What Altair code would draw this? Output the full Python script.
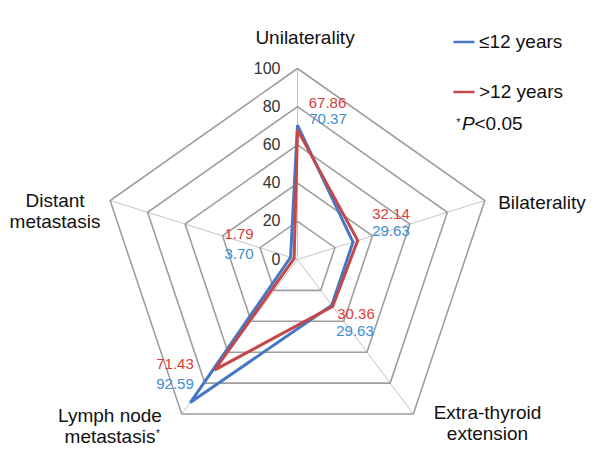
import altair as alt
import numpy as np
import pandas as pd

# ---------------- data ----------------
categories = ["Unilaterality", "Bilaterality", "Extra-thyroid\nextension",
              "Lymph node\nmetastasis", "Distant\nmetastasis"]
series_names = ["≤12 years", ">12 years"]
le12_values = [70.37, 29.63, 29.63, 92.59, 3.70]
gt12_values = [67.86, 32.14, 30.36, 71.43, 1.79]
ring_levels = [20, 40, 60, 80, 100]
tick_labels = [0, 20, 40, 60, 80, 100]

# ---------------- layout ----------------
W, H = 592, 446
CX, CY = 289.5, 251.5          # centre in plot pixels
KX, KY = 1.97, 1.91            # pixels per unit
xs = alt.Scale(domain=[-CX / KX, (W - CX) / KX], nice=False, zero=False)
ys = alt.Scale(domain=[-(H - CY) / KY, CY / KY], nice=False, zero=False)

def to_data(px, py):
    # page pixel -> data units (page margin 8px)
    return (px - 8 - CX) / KX, (CY - (py - 8)) / KY

def ang(i):
    return np.deg2rad(90 - 72 * i)

BLUE, RED = "#4677C6", "#C4484A"
BLUE_T, RED_T = "#3B8ED3", "#DD3A3A"
FONT = "Liberation Sans"

# polygons for the series
rows = []
for s, vals in zip(series_names, [le12_values, gt12_values]):
    for k in range(6):
        i = k % 5
        rows.append(dict(series=s, order=k,
                         x=vals[i] * np.cos(ang(i)), y=vals[i] * np.sin(ang(i))))
series_df = pd.DataFrame(rows)

# grid rings
ring_rows = []
for lv in ring_levels:
    for k in range(6):
        i = k % 5
        ring_rows.append(dict(level=lv, k=k, x=lv * np.cos(ang(i)), y=lv * np.sin(ang(i))))
ring_df = pd.DataFrame(ring_rows)

spoke_df = pd.DataFrame([dict(x0=0.0, y0=0.0, x=100 * np.cos(ang(i)), y=100 * np.sin(ang(i)))
                         for i in range(5)])

tick_df = pd.DataFrame({"x": [0.0] * len(tick_labels), "y": tick_labels,
                        "t": [str(v) for v in tick_labels]})

# data label positions (page px), per category: (red, blue)
label_pos = [((327.5, 103), (328, 118.5)),
             ((391, 214), (391, 231)),
             ((356, 314), (355, 331)),
             ((175, 364), (175, 384)),
             ((239, 234), (239, 254))]
lab_rows = []
for i in range(5):
    (rx, ry), (bx, by) = label_pos[i]
    x, y = to_data(rx, ry)
    lab_rows.append(dict(lser=">12 years", x=x, y=y, t=f"{gt12_values[i]:.2f}"))
    x, y = to_data(bx, by)
    lab_rows.append(dict(lser="≤12 years", x=x, y=y, t=f"{le12_values[i]:.2f}"))
lab_df = pd.DataFrame(lab_rows)

# category label positions (page px, first-line baseline, centre)
cat_pos = [(305, 43.5), (542, 209), (487.5, 419), (110, 421.5), (55, 207)]
cat_df = pd.DataFrame([dict(x=to_data(*p)[0], y=to_data(*p)[1], t=c)
                       for c, p in zip(categories, cat_pos)])

X = lambda f: alt.X(f, scale=xs, axis=None)
Y = lambda f: alt.Y(f, scale=ys, axis=None)

spokes = alt.Chart(spoke_df).mark_rule(color="#c4c4c4", strokeWidth=1).encode(
    x=X("x0:Q"), y=Y("y0:Q"), x2="x:Q", y2="y:Q")

rings = alt.Chart(ring_df).mark_line(color="#9e9e9e", strokeWidth=1.6).encode(
    x=X("x:Q"), y=Y("y:Q"), detail="level:N", order="k:Q")

lines = alt.Chart(series_df).mark_line(strokeWidth=3).encode(
    x=X("x:Q"), y=Y("y:Q"), order="order:Q",
    color=alt.Color("series:N",
                    scale=alt.Scale(domain=series_names, range=[BLUE, RED]),
                    legend=alt.Legend(orient="none", legendX=444, legendY=22,
                                      title=None, symbolType="stroke",
                                      symbolSize=441, symbolStrokeWidth=2.5,
                                      labelFontSize=19, labelFont=FONT,
                                      labelColor="#111111", labelOffset=3,
                                      rowPadding=28, padding=0)))

ticks = alt.Chart(tick_df).mark_text(align="right", baseline="middle", dx=-17,
                                     fontSize=16, font=FONT, color="#333333").encode(
    x=X("x:Q"), y=Y("y:Q"), text="t:N")

dlabels = alt.Chart(lab_df).mark_text(align="center", baseline="middle",
                                      fontSize=15, font=FONT).encode(
    x=X("x:Q"), y=Y("y:Q"), text="t:N",
    color=alt.Color("lser:N", scale=alt.Scale(domain=series_names, range=[BLUE_T, RED_T]),
                    legend=None))

clabels = alt.Chart(cat_df).mark_text(align="center", baseline="alphabetic",
                                      fontSize=19, font=FONT, color="#111111",
                                      lineBreak="\n", lineHeight=21).encode(
    x=X("x:Q"), y=Y("y:Q"), text="t:N")

# annotations: superscript asterisk and P-value note
def note(text, px, py, **kw):
    x, y = to_data(px, py)
    return alt.Chart(pd.DataFrame({"x": [x], "y": [y], "t": [text]})).mark_text(
        baseline="alphabetic", font=FONT, color="#111111", **kw).encode(
        x=X("x:Q"), y=Y("y:Q"), text="t:N")

ast1 = note("*", 158, 437, align="center", fontSize=10)
ast2 = note("*", 458.5, 126, align="center", fontSize=11)
p_it = note("P", 462, 130, align="left", fontSize=19, fontStyle="italic")
p_rest = note("<0.05", 474.5, 130, align="left", fontSize=19)

chart = alt.layer(spokes, rings, lines, ticks, dlabels, clabels,
                  ast1, ast2, p_it, p_rest).resolve_scale(color="independent").properties(
    width=W, height=H, padding=0, background="white"
).configure_view(stroke=None)

chart.save("out.html", embed_options={"renderer": "svg", "actions": False})
